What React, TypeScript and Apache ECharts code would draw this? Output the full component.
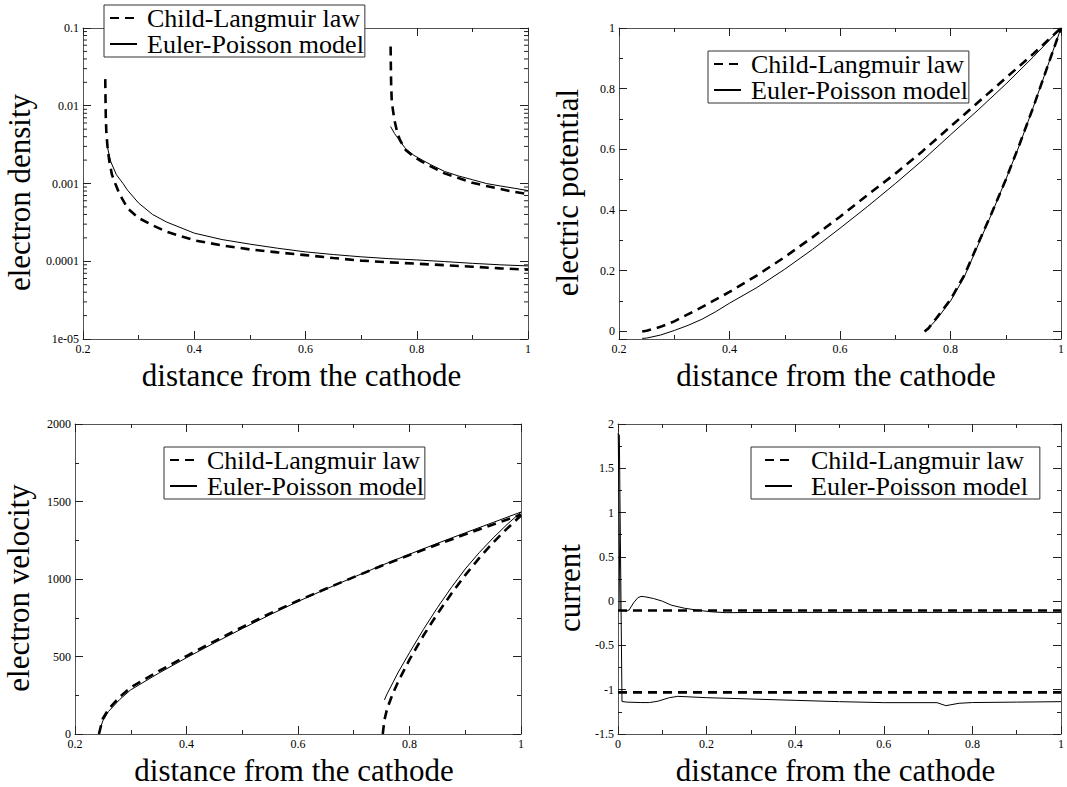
import React, { useEffect, useRef } from "react";
import * as echarts from "echarts";

const FONT = "'Liberation Serif', 'DejaVu Serif', serif";
const CL = "Child-Langmuir law";
const EP = "Euler-Poisson model";
const XTITLE = "distance from the cathode";

// ---------- Panel 1: electron density (log) ----------
const densClX1 = [0.24, 0.2405, 0.241, 0.242, 0.244, 0.247, 0.252, 0.258, 0.265, 0.28, 0.3, 0.325, 0.35, 0.4, 0.45, 0.5, 0.55, 0.6, 0.65, 0.7, 0.75, 0.8, 0.85, 0.9, 0.95, 1.0];
const densClY1 = [0.022, 0.012, 0.007, 0.0045, 0.003, 0.002, 0.0013, 0.001, 0.00075, 0.00048, 0.00036, 0.00029, 0.00024, 0.000186, 0.00016, 0.000142, 0.00013, 0.00012, 0.00011, 0.000102, 0.000097, 0.000093, 0.000089, 0.000085, 0.000081, 0.000078];
const densEpX1 = [0.2425, 0.245, 0.25, 0.26, 0.272, 0.28, 0.3, 0.325, 0.35, 0.4, 0.45, 0.5, 0.55, 0.6, 0.65, 0.7, 0.75, 0.8, 0.85, 0.9, 0.95, 1.0];
const densEpY1 = [0.0036, 0.0027, 0.0019, 0.0013, 0.001, 0.00082, 0.00056, 0.0004, 0.00032, 0.00023, 0.00019, 0.000166, 0.000147, 0.000132, 0.000122, 0.000114, 0.000108, 0.000104, 0.000099, 0.000094, 0.00009, 0.000087];
const densClX2 = [0.753, 0.7535, 0.754, 0.755, 0.757, 0.76, 0.765, 0.77, 0.78, 0.795, 0.81, 0.825, 0.85, 0.875, 0.9, 0.925, 0.95, 0.975, 1.0];
const densClY2 = [0.058, 0.03, 0.018, 0.012, 0.009, 0.0065, 0.0045, 0.0036, 0.0027, 0.0022, 0.0019, 0.00166, 0.00135, 0.00118, 0.00102, 0.00093, 0.00085, 0.00078, 0.00073];
const densEpX2 = [0.753, 0.76, 0.77, 0.78, 0.795, 0.81, 0.825, 0.85, 0.875, 0.9, 0.925, 0.95, 0.975, 1.0];
const densEpY2 = [0.0054, 0.0044, 0.0035, 0.0028, 0.0023, 0.002, 0.00175, 0.00143, 0.00125, 0.00112, 0.001, 0.00093, 0.00087, 0.00081];
const logTickLabels = ["1e-05", "0.0001", "0.001", "0.01", "0.1"];
const logDecades = [1e-5, 1e-4, 1e-3, 1e-2];
const logMultipliers = [2, 3, 4, 5, 6, 7, 8, 9];

// ---------- Panel 2: electric potential ----------
const potClX1 = [0.242, 0.25, 0.275, 0.3, 0.35, 0.4, 0.45, 0.5, 0.55, 0.6, 0.65, 0.7, 0.75, 0.8, 0.85, 0.9, 0.95, 1.0];
const potClY1 = [0, 0.002, 0.015, 0.033, 0.08, 0.13, 0.185, 0.245, 0.31, 0.378, 0.45, 0.52, 0.595, 0.675, 0.755, 0.835, 0.915, 1.0];
const potEpX1 = [0.242, 0.25, 0.275, 0.3, 0.325, 0.35, 0.375, 0.4, 0.45, 0.5, 0.55, 0.6, 0.65, 0.7, 0.75, 0.8, 0.85, 0.9, 0.95, 1.0];
const potEpY1 = [-0.023, -0.022, -0.012, 0.003, 0.02, 0.04, 0.065, 0.093, 0.145, 0.205, 0.27, 0.34, 0.412, 0.487, 0.565, 0.648, 0.73, 0.815, 0.905, 1.0];
const potClX2 = [0.753, 0.76, 0.775, 0.8, 0.825, 0.85, 0.875, 0.9, 0.925, 0.95, 0.975, 1.0];
const potClY2 = [0, 0.01, 0.045, 0.105, 0.185, 0.29, 0.392, 0.5, 0.617, 0.74, 0.87, 1.0];
const potEpX2 = [0.755, 0.775, 0.8, 0.825, 0.85, 0.875, 0.9, 0.925, 0.95, 0.975, 1.0];
const potEpY2 = [0, 0.04, 0.1, 0.18, 0.285, 0.39, 0.5, 0.615, 0.74, 0.87, 1.0];

// ---------- Panel 3: electron velocity ----------
const velClX1 = [0.243, 0.245, 0.25, 0.26, 0.28, 0.3, 0.35, 0.4, 0.45, 0.5, 0.55, 0.6, 0.65, 0.7, 0.75, 0.8, 0.85, 0.9, 0.95, 1.0];
const velClY1 = [0, 30, 100, 160, 238, 300, 405, 503, 598, 690, 778, 860, 937, 1012, 1085, 1155, 1222, 1288, 1352, 1415];
const velEpX1 = [0.243, 0.244, 0.25, 0.26, 0.28, 0.3, 0.35, 0.4, 0.45, 0.5, 0.55, 0.6, 0.65, 0.7, 0.75, 0.8, 0.85, 0.9, 0.95, 1.0];
const velEpY1 = [0, 25, 85, 145, 222, 285, 392, 492, 588, 680, 770, 855, 935, 1012, 1088, 1160, 1230, 1298, 1365, 1432];
const velClX2 = [0.752, 0.755, 0.76, 0.77, 0.78, 0.8, 0.825, 0.85, 0.875, 0.9, 0.925, 0.95, 0.975, 1.0];
const velClY2 = [0, 90, 165, 260, 340, 480, 635, 775, 905, 1025, 1135, 1235, 1325, 1410];
const velEpX2 = [0.755, 0.76, 0.77, 0.78, 0.8, 0.825, 0.85, 0.875, 0.9, 0.925, 0.95, 0.975, 1.0];
const velEpY2 = [220, 260, 330, 400, 525, 675, 815, 945, 1065, 1170, 1265, 1352, 1432];

// ---------- Panel 4: current ----------
const curClX = [0, 1];
const curClY1 = [-0.105, -0.105];
const curClY2 = [-1.03, -1.03];
const curEpX1 = [0.0005, 0.0045, 0.01, 0.02, 0.025, 0.035, 0.045, 0.052, 0.06, 0.08, 0.1, 0.12, 0.15, 0.184, 0.21, 0.244, 0.3, 0.4, 0.6, 0.8, 1.0];
const curEpY1 = [1.9, -0.1, -0.11, -0.112, -0.1, -0.02, 0.04, 0.053, 0.05, 0.03, 0.0, -0.045, -0.08, -0.105, -0.12, -0.13, -0.128, -0.127, -0.127, -0.127, -0.127];
const curEpX2 = [0.003, 0.009, 0.02, 0.05, 0.071, 0.09, 0.116, 0.135, 0.2, 0.3, 0.4, 0.5, 0.6, 0.72, 0.74, 0.77, 0.8, 0.9, 1.0];
const curEpY2 = [1.88, -1.133, -1.14, -1.145, -1.145, -1.13, -1.09, -1.075, -1.09, -1.105, -1.12, -1.135, -1.146, -1.146, -1.18, -1.153, -1.145, -1.14, -1.135];

const zip = (xs: number[], ys: number[]) => xs.map((x, i) => [x, ys[i]]);
const fmt = (v: number) => String(Math.round(v * 1e6) / 1e6);

const LINE_COLOR = "#555";
const TICK_COLOR = "#222";

function xAxes(gridIndex: number, min: number, max: number, interval: number) {
  const base: any = {
    type: "value",
    gridIndex,
    min,
    max,
    interval,
    axisLine: { onZero: false, lineStyle: { color: LINE_COLOR, width: 1 } },
    axisTick: { inside: true, length: 8, lineStyle: { color: TICK_COLOR } },
    minorTick: { show: true, splitNumber: 2, length: 4, lineStyle: { color: TICK_COLOR } },
    splitLine: { show: false },
  };
  return [
    {
      ...base,
      position: "bottom",
      name: XTITLE,
      nameLocation: "middle",
      nameGap: 21,
      nameTextStyle: { fontFamily: FONT, fontSize: 31, color: "#000", padding: [0, 8, 0, 0] },
      axisLabel: { fontFamily: FONT, fontSize: 12, color: "#000", margin: 4, formatter: fmt },
    },
    { ...base, position: "top", axisLabel: { show: false } },
  ];
}

function yAxes(gridIndex: number, name: string, nameGap: number, extra: any, labelExtra: any = {}) {
  const base: any = {
    gridIndex,
    axisLine: { onZero: false, lineStyle: { color: LINE_COLOR, width: 1 } },
    axisTick: { inside: true, length: 8, lineStyle: { color: TICK_COLOR } },
    minorTick: { show: true, splitNumber: 2, length: 4, lineStyle: { color: TICK_COLOR } },
    splitLine: { show: false },
    ...extra,
  };
  return [
    {
      ...base,
      position: "left",
      name,
      nameLocation: "middle",
      nameGap,
      nameTextStyle: { fontFamily: FONT, fontSize: 31, color: "#000", padding: [0, 18, 0, 0] },
      axisLabel: { fontFamily: FONT, fontSize: 12, color: "#000", margin: 4, formatter: fmt, ...labelExtra },
    },
    { ...base, position: "right", axisLabel: { show: false } },
  ];
}

function lineSeries(name: string, dashed: boolean, grid: number, data: number[][]) {
  return {
    type: "line",
    name,
    xAxisIndex: grid * 2,
    yAxisIndex: grid * 2,
    data,
    symbol: "none",
    showSymbol: false,
    smooth: false,
    silent: true,
    lineStyle: dashed
      ? { color: "#000", width: 2.6, type: [9, 6] }
      : { color: "#000", width: 1 },
    itemStyle: { color: "#000" },
  };
}

function legendAt(left: number, top: number, padding: number[], textPad: number) {
  return {
    left,
    top,
    orient: "vertical",
    data: [CL, EP],
    selectedMode: false,
    itemWidth: 27,
    itemHeight: 26,
    itemGap: 0,
    padding,
    borderColor: "#333",
    borderWidth: 1,
    backgroundColor: "#fff",
    itemStyle: { opacity: 0, borderWidth: 0 },
    textStyle: { fontFamily: FONT, fontSize: 26, color: "#000", padding: [0, 0, 0, textPad] },
  };
}

const minorLogValues: number[] = [];
logDecades.forEach((d) => logMultipliers.forEach((m) => minorLogValues.push(d * m)));

function buildOption() {
  const grids = [
    { left: 83, top: 28, width: 445, height: 311 },
    { left: 619, top: 28, width: 445, height: 311 },
    { left: 75, top: 424, width: 446, height: 312 },
    { left: 618, top: 424, width: 445, height: 312 },
  ];
  const xAxis = [
    ...xAxes(0, 0.2, 1, 0.2),
    ...xAxes(1, 0.2, 1, 0.2),
    ...xAxes(2, 0.2, 1, 0.2),
    ...xAxes(3, 0, 1, 0.2),
  ];
  const yAxis = [
    ...yAxes(
      0,
      "electron density",
      48,
      { type: "log", logBase: 10, min: 1e-5, max: 0.1, minorTick: { show: false } },
      {
        formatter: (v: number) => logTickLabels[Math.round(Math.log10(v)) + 5] ?? "",
      }
    ),
    ...yAxes(1, "electric potential", 36, { type: "value", min: -0.025, max: 1 }, { showMinLabel: false }),
    ...yAxes(2, "electron velocity", 41, { type: "value", min: 0, max: 2000, interval: 500 }),
    ...yAxes(3, "current", 33, { type: "value", min: -1.5, max: 2, interval: 0.5 }),
  ];
  const series: any[] = [
    lineSeries(CL, true, 0, zip(densClX1, densClY1)),
    lineSeries(EP, false, 0, zip(densEpX1, densEpY1)),
    lineSeries(CL, true, 0, zip(densClX2, densClY2)),
    lineSeries(EP, false, 0, zip(densEpX2, densEpY2)),

    lineSeries(CL, true, 1, zip(potClX1, potClY1)),
    lineSeries(EP, false, 1, zip(potEpX1, potEpY1)),
    lineSeries(CL, true, 1, zip(potClX2, potClY2)),
    lineSeries(EP, false, 1, zip(potEpX2, potEpY2)),

    lineSeries(CL, true, 2, zip(velClX1, velClY1)),
    lineSeries(EP, false, 2, zip(velEpX1, velEpY1)),
    lineSeries(CL, true, 2, zip(velClX2, velClY2)),
    lineSeries(EP, false, 2, zip(velEpX2, velEpY2)),

    lineSeries(CL, true, 3, zip(curClX, curClY1)),
    lineSeries(EP, false, 3, zip(curEpX1, curEpY1)),
    lineSeries(CL, true, 3, zip(curClX, curClY2)),
    lineSeries(EP, false, 3, zip(curEpX2, curEpY2)),
    {
      type: "custom",
      name: "log minor ticks",
      xAxisIndex: 0,
      yAxisIndex: 0,
      silent: true,
      clip: false,
      data: minorLogValues.map((v) => [0.2, v]),
      renderItem: (params: any, api: any) => {
        const y = api.coord([0.2, api.value(1)])[1];
        const cs = params.coordSys;
        const style = { stroke: TICK_COLOR, lineWidth: 1 };
        return {
          type: "group",
          children: [
            { type: "line", shape: { x1: cs.x, y1: y, x2: cs.x + 4, y2: y }, style },
            { type: "line", shape: { x1: cs.x + cs.width - 4, y1: y, x2: cs.x + cs.width, y2: y }, style },
          ],
        };
      },
    },
  ];
  return {
    animation: false,
    backgroundColor: "#fff",
    grid: grids,
    xAxis,
    yAxis,
    legend: [
      legendAt(104, 5, [0, 1, 0, 5], 5),
      legendAt(708, 51, [0, 1, 0, 5], 5),
      legendAt(164, 447, [0, 1, 0, 5], 5),
      legendAt(751, 447, [0, 12, 0, 13], 14),
    ],
    series,
  };
}

export default function App() {
  const ref = useRef<HTMLDivElement>(null);
  useEffect(() => {
    if (!ref.current) return;
    const chart = echarts.init(ref.current, undefined, { renderer: "svg" });
    chart.setOption(buildOption() as any);
    return () => chart.dispose();
  }, []);
  return (
    <div
      ref={ref}
      style={{ position: "absolute", left: 0, top: 0, width: 1067, height: 787, background: "#fff" }}
    />
  );
}
